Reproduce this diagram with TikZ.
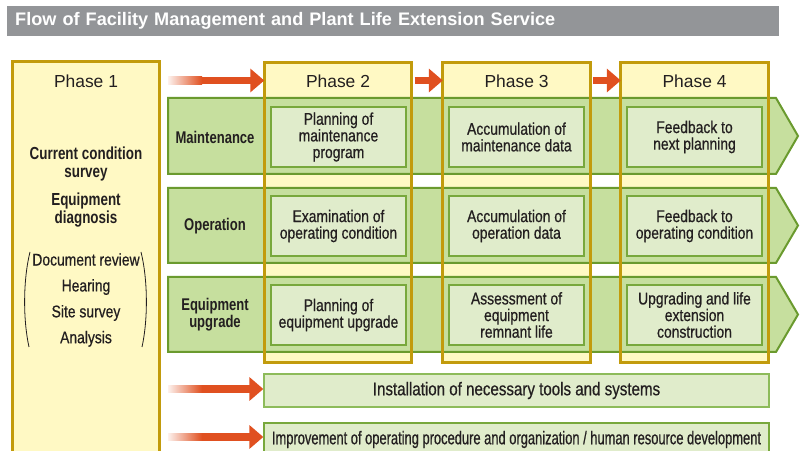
\documentclass[tikz,border=0pt]{standalone}
\usepackage{fontspec}
\setmainfont{Liberation Sans}
\newfontfamily\condfont[FakeStretch=0.82,FakeBold=0.6]{Liberation Sans}
\newfontfamily\narrowfont[FakeStretch=0.70,FakeBold=0.6]{Liberation Sans}
\newfontfamily\condbf[FakeStretch=0.77]{Liberation Sans}
\usetikzlibrary{arrows.meta,calc,positioning}

\definecolor{titlegray}{RGB}{147,149,152}
\definecolor{gold}{RGB}{194,155,12}
\definecolor{paleyellow}{RGB}{255,249,196}
\definecolor{bandgreen}{RGB}{198,223,158}
\definecolor{banddark}{RGB}{106,154,46}
\definecolor{boxgreen}{RGB}{224,236,203}
\definecolor{boxline}{RGB}{120,168,60}
\definecolor{lightline}{RGB}{141,187,90}
\definecolor{arrowred}{RGB}{224,80,32}
\definecolor{ink}{RGB}{35,31,32}

\tikzset{
  phase/.style={fill=paleyellow, inner sep=0pt, minimum width=147bp, minimum height=300bp},
  phaseline/.style={draw=gold, line width=3bp},
  phasetitle/.style={text=ink, font=\fontsize{17.5}{20}\selectfont},
  band/.style={fill=bandgreen, draw=banddark, line width=2bp},
  task/.style={fill=boxgreen, draw=boxline, line width=1.3bp, inner sep=2pt,
    minimum width=135bp, minimum height=60bp, align=center, text=ink,
    font=\condfont\fontsize{17}{16.7}\selectfont},
  rowlabel/.style={align=center, text=ink, font=\condbf\bfseries\fontsize{17}{17}\selectfont},
  widebox/.style={fill=boxgreen, draw=lightline, line width=1.3bp, inner sep=0pt,
    minimum width=505bp, minimum height=33bp, text=ink,
    font=\condfont\fontsize{18.5}{20}\selectfont},
  bigarrow/.style={arrowred, line width=7.5bp, -{Triangle[length=14bp,width=23bp]}},
  fadein/.style={left color=arrowred!8, right color=arrowred},
}

\begin{document}
\begin{tikzpicture}[x=1bp,y=-1bp]
  \useasboundingbox (0,0) rectangle (801,451);

  % title bar
  \node[fill=titlegray, anchor=north west, minimum width=772bp, minimum height=30bp,
    text width=756bp, inner xsep=8bp, align=left, text=white,
    font=\bfseries\fontsize{18.2}{20}\selectfont] (title) at (7,6)
    {Flow of Facility Management and Plant Life Extension Service};

  % phase columns (fill only, frames come last)
  \node[phase, minimum height=420bp] (ph1) at (86,272) {};
  \node[phase] (ph2) at (338,212.5) {};
  \node[phase] (ph3) at (516.5,212.5) {};
  \node[phase] (ph4) at (694.5,212.5) {};

  % green bands
  \filldraw[band] (168,98) -- (776,98) -- (798,136) -- (776,174) -- (168,174) -- cycle;
  \filldraw[band] (168,188) -- (776,188) -- (798,225.5) -- (776,263) -- (168,263) -- cycle;
  \filldraw[band] (168,277) -- (776,277) -- (798,314.5) -- (776,352) -- (168,352) -- cycle;

  \node[rowlabel] (lmaint) at (215,137) {Maintenance};
  \node[rowlabel] (loper) at (215,226) {Operation};
  \node[rowlabel] (lupgr) at (215,315) {Equipment\\upgrade};

  % maintenance row
  \node[task] (m2) at (338.5,137) {Planning of\\maintenance\\program};
  \node[task] (m3) at (516.5,137) {Accumulation of\\maintenance data};
  \node[task] (m4) at (694.5,137) {Feedback to\\next planning};
  % operation row
  \node[task] (o2) at (338.5,226) {Examination of\\operating condition};
  \node[task] (o3) at (516.5,226) {Accumulation of\\operation data};
  \node[task] (o4) at (694.5,226) {Feedback to\\operating condition};
  % upgrade row
  \node[task] (u2) at (338.5,315) {Planning of\\equipment upgrade};
  \node[task] (u3) at (516.5,315) {Assessment of\\equipment\\remnant life};
  \node[task] (u4) at (694.5,315) {Upgrading and life\\extension\\construction};

  % phase frames on top
  \draw[phaseline] (ph1.north west) rectangle (ph1.south east);
  \draw[phaseline] (ph2.north west) rectangle (ph2.south east);
  \draw[phaseline] (ph3.north west) rectangle (ph3.south east);
  \draw[phaseline] (ph4.north west) rectangle (ph4.south east);

  \node[phasetitle] (t1) at (86,81) {Phase 1};
  \node[phasetitle] (t2) at (338,81) {Phase 2};
  \node[phasetitle] (t3) at (516.5,81) {Phase 3};
  \node[phasetitle] (t4) at (694.5,81) {Phase 4};

  % phase 1 contents
  \node[align=center, text=ink, font=\condbf\bfseries\fontsize{17.5}{18}\selectfont]
    (survey) at (86,164) {Current condition\\survey};
  \node[align=center, text=ink, font=\condbf\bfseries\fontsize{17.5}{18}\selectfont]
    (diag) at (86,210) {Equipment\\diagnosis};
  \node[align=center, text=ink, font=\condfont\fontsize{17}{26}\selectfont]
    (items) at (86,300) {Document review\\Hearing\\Site survey\\Analysis};
  \draw[ink, line width=0.8bp] (30,252) .. controls (23,280) and (23,320) .. (29,347);
  \draw[ink, line width=0.8bp] (141,252) .. controls (148,280) and (148,320) .. (142,347);

  % tools and organisation
  \node[widebox] (tools) at (516.5,390.5) {Installation of necessary tools and systems};
  \node[widebox, draw=boxline, font=\narrowfont\fontsize{18.5}{20}\selectfont] (staff) at (516.5,439.5)
    {Improvement of operating procedure and organization / human resource development};

  % orange arrows
  \coordinate (src1) at (168,80.5);
  \coordinate (src2) at (168,389);
  \coordinate (src3) at (168,437);
  \draw[bigarrow] (src1) -- (ph2.west |- src1);
  \shade[fadein] ($(src1)+(0,-3.75)$) rectangle ($(src1)+(34,3.75)$);
  \draw[bigarrow] ($(ph2.east |- src1)+(3,0)$) -- (ph3.west |- src1);
  \draw[bigarrow] ($(ph3.east |- src1)+(3,0)$) -- (ph4.west |- src1);
  \draw[bigarrow] (src2) -- (tools.west |- src2);
  \shade[fadein] ($(src2)+(0,-3.75)$) rectangle ($(src2)+(34,3.75)$);
  \draw[bigarrow] (src3) -- (staff.west |- src3);
  \shade[fadein] ($(src3)+(0,-3.75)$) rectangle ($(src3)+(34,3.75)$);
\end{tikzpicture}
\end{document}
